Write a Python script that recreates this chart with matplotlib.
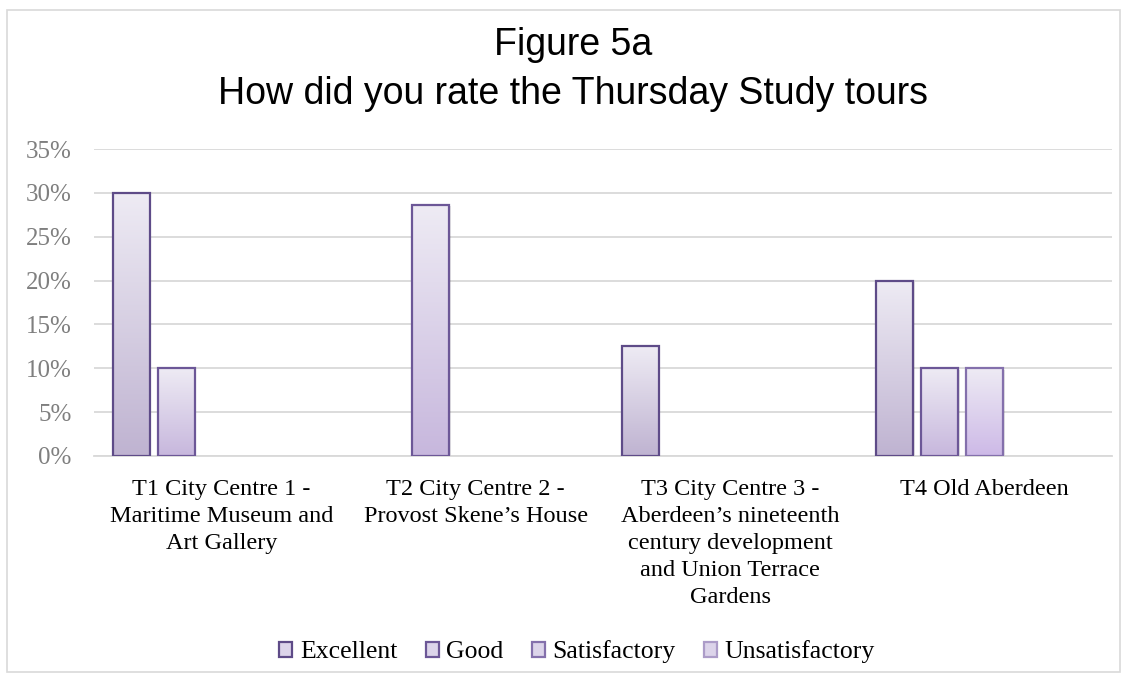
import numpy as np
import matplotlib
matplotlib.use("Agg")
import matplotlib.pyplot as plt
from matplotlib.colors import LinearSegmentedColormap
from matplotlib.patches import Rectangle, Patch

categories = [
    "T1 City Centre 1 -\nMaritime Museum and\nArt Gallery",
    "T2 City Centre 2 -\nProvost Skene\u2019s House",
    "T3 City Centre 3 -\nAberdeen\u2019s nineteenth\ncentury development\nand Union Terrace\nGardens",
    "T4 Old Aberdeen",
]
series_names = ["Excellent", "Good", "Satisfactory", "Unsatisfactory"]
excellent = [30.0, 0.0, 12.5, 20.0]
good = [10.0, 28.6, 0.0, 10.0]
satisfactory = [0.0, 0.0, 0.0, 10.0]
unsatisfactory = [0.0, 0.0, 0.0, 0.0]
series_values = [excellent, good, satisfactory, unsatisfactory]
yticks = [0, 5, 10, 15, 20, 25, 30, 35]

edge_colors = ["#5E4B88", "#6C5797", "#8470AC", "#AC9CC8"]
bottom_colors = ["#BFB3D1", "#C7B7DD", "#CDB9E7", "#D8CCEA"]
top_color = "#EEEBF4"

serif = ["Liberation Serif", "DejaVu Serif"]
sans_title = ["Liberation Sans Narrow", "Liberation Sans", "DejaVu Sans"]
FS = 17.5

fig = plt.figure(figsize=(11.28, 6.8), dpi=100)
fig.patch.set_facecolor("white")
fig.add_artist(Rectangle((7 / 1128, 8 / 680), 1113 / 1128, 662 / 680,
                         transform=fig.transFigure, fill=False,
                         edgecolor="#D9D9D9", linewidth=1.2))

ax = fig.add_axes([94 / 1128, 224 / 680, 1018 / 1128, 307 / 680])

n_slots = 5  # Excel cluster has a fifth (empty) slot
step = 0.177
width = 0.146
x = np.arange(len(categories))
grad = np.linspace(0, 1, 256).reshape(-1, 1)

for i, (name, vals) in enumerate(zip(series_names, series_values)):
    offs = (i - (n_slots - 1) / 2) * step
    ecs = [edge_colors[i] if v > 0 else "none" for v in vals]
    bars = ax.bar(x + offs, vals, width=width, facecolor="none",
                  edgecolor=ecs, linewidth=1.6, label=name, zorder=4)
    cmap = LinearSegmentedColormap.from_list("g%d" % i, [bottom_colors[i], top_color])
    for b, v in zip(bars, vals):
        if v <= 0:
            continue
        x0 = b.get_x()
        w = b.get_width()
        ax.add_patch(Rectangle((x0 + 0.006, 0), w, v - 0.15, facecolor="#000000",
                               alpha=0.10, edgecolor="none", zorder=2))
        ax.imshow(grad, extent=(x0, x0 + w, 0, v), origin="lower", cmap=cmap,
                  aspect="auto", zorder=3, interpolation="bilinear")

ax.set_xlim(-0.5, len(categories) - 0.5)
ax.set_ylim(0, 35)
ax.set_yticks(yticks)
ax.set_yticklabels(["%d%%" % t for t in yticks], fontfamily=serif, fontsize=18,
                   color="#7F7F7F")
ax.set_xticks(x)
ax.set_xticklabels(categories, fontfamily=serif, fontsize=FS, color="#000000",
                   linespacing=1.37, va="top")
ax.tick_params(axis="both", length=0)
ax.tick_params(axis="x", pad=16.5)
ax.tick_params(axis="y", pad=16)
ax.grid(axis="y", color="#D9D9D9", linewidth=1.3, zorder=0)
ax.set_axisbelow(True)
for s in ["top", "right", "left"]:
    ax.spines[s].set_visible(False)
ax.spines["bottom"].set_color("#D9D9D9")
ax.spines["bottom"].set_linewidth(1.3)

fig.text(573 / 1128, 1 - 45 / 680, "Figure 5a", ha="center", va="center",
         fontsize=27, fontfamily=sans_title, color="#000000")
fig.text(573 / 1128, 1 - 94 / 680, "How did you rate the Thursday Study tours",
         ha="center", va="center", fontsize=27, fontfamily=sans_title, color="#000000")

handles = [Patch(facecolor="#DCD4EA", edgecolor=edge_colors[i], linewidth=1.6,
                 label=series_names[i]) for i in range(4)]
leg = fig.legend(handles=handles, loc="center", bbox_to_anchor=(577 / 1128, 1 - 652 / 680),
                 ncol=4, frameon=False, prop={"family": serif, "size": 18.5},
                 handlelength=0.5, handleheight=0.5, handletextpad=0.3,
                 columnspacing=1.1)

fig.savefig("out.png", dpi=100, facecolor="white")
